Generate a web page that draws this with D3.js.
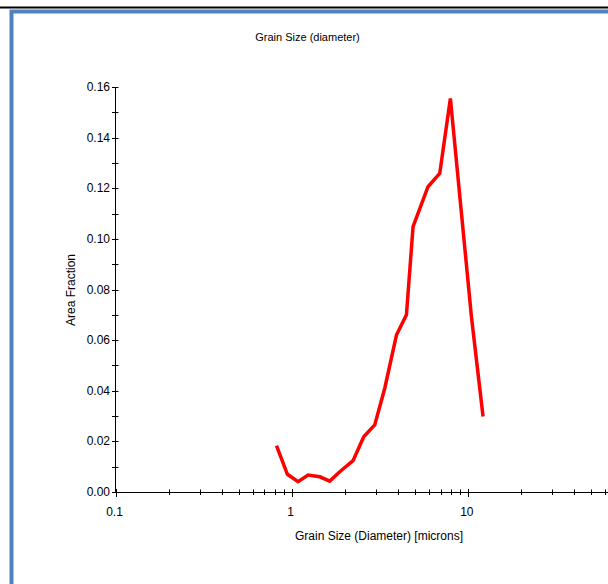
<!DOCTYPE html>
<html>
<head>
<meta charset="utf-8">
<script src="https://cdn.jsdelivr.net/npm/d3@7"></script>
<style>
  html, body { margin: 0; padding: 0; background: #fff; }
  svg { display: block; }
  text { font-family: "Liberation Sans", Arial, sans-serif; fill: #000; }
</style>
</head>
<body>
<svg id="chart" width="608" height="584"></svg>
<script>
// Grain size distribution (diameter, microns) vs. area fraction
const grainSize = [0.82, 0.946, 1.087, 1.239, 1.444, 1.645, 1.875, 2.231, 2.565, 2.962,
                   3.376, 3.934, 4.482, 4.887, 5.943, 6.93, 7.96, 10.48, 12.2];
const areaFraction = [0.0183, 0.0070, 0.0041, 0.0067, 0.0060, 0.0043, 0.0080, 0.0124, 0.0218, 0.0265,
                      0.0410, 0.0620, 0.0700, 0.1048, 0.1206, 0.1259, 0.1555, 0.0693, 0.0298];
const xTickLabels = ["0.1", "1", "10"];
const yTickValues = [0, 0.02, 0.04, 0.06, 0.08, 0.10, 0.12, 0.14, 0.16];

const svg = d3.select("#chart");

// Window frame
svg.append("line").attr("x1", 0).attr("x2", 608).attr("y1", 7.5).attr("y2", 7.5)
  .attr("stroke", "#000").attr("stroke-width", 2);
svg.append("path").attr("d", "M11.5,584 V11.5 H608")
  .attr("fill", "none").attr("stroke", "#4f81bd").attr("stroke-width", 4);

const x = d3.scaleLog().domain([0.1, 100]).range([115.5, 644]);
const y = d3.scaleLinear().domain([0, 0.16]).range([492, 87]);

// Axis lines
svg.append("line").attr("x1", 115.5).attr("x2", 608).attr("y1", 492.5).attr("y2", 492.5)
  .attr("stroke", "#000").attr("stroke-width", 1);
svg.append("line").attr("x1", 115.5).attr("x2", 115.5).attr("y1", 87).attr("y2", 492.5)
  .attr("stroke", "#000").attr("stroke-width", 1);

// Y ticks (major every 0.02, minor every 0.01)
const yMinor = d3.range(0, 0.1601, 0.01);
svg.selectAll(".ytick").data(yMinor).enter().append("line")
  .attr("x1", 112).attr("x2", 118.5)
  .attr("y1", d => Math.round(y(d)) + 0.5).attr("y2", d => Math.round(y(d)) + 0.5)
  .attr("stroke", "#000");
svg.selectAll(".ylab").data(yTickValues).enter().append("text")
  .attr("x", 110).attr("y", d => Math.round(y(d)) + 4)
  .attr("text-anchor", "end").attr("font-size", 12)
  .text(d => d.toFixed(2));

// X ticks (log: major at decades, minor at multiples)
const xMinor = [];
[0.1, 1, 10].forEach(dec => { for (let k = 1; k <= 9; k++) xMinor.push(dec * k); });
svg.selectAll(".xtick").data(xMinor).enter().append("line")
  .attr("x1", d => Math.round(x(d)) + 0.5).attr("x2", d => Math.round(x(d)) + 0.5)
  .attr("y1", (d, i) => i % 9 === 0 ? 489 : 489.5)
  .attr("y2", (d, i) => i % 9 === 0 ? 497 : 495)
  .attr("stroke", "#000");
svg.selectAll(".xlab").data(xTickLabels).enter().append("text")
  .attr("x", d => x(+d) - 1).attr("y", 516)
  .attr("text-anchor", "middle").attr("font-size", 12)
  .text(d => d);

// Titles
svg.append("text").attr("x", 307.5).attr("y", 41).attr("text-anchor", "middle")
  .attr("font-size", 11).text("Grain Size (diameter)");
svg.append("text").attr("x", 379).attr("y", 540).attr("text-anchor", "middle")
  .attr("font-size", 12).text("Grain Size (Diameter) [microns]");
svg.append("text").attr("transform", "translate(75,290) rotate(-90)")
  .attr("text-anchor", "middle").attr("font-size", 12).text("Area Fraction");

// Distribution curve
const pts = grainSize.map((g, i) => [g, areaFraction[i]]);
svg.append("path").datum(pts)
  .attr("fill", "none").attr("stroke", "#ff0000").attr("stroke-width", 3.5)
  .attr("stroke-linejoin", "miter")
  .attr("d", d3.line().x(d => x(d[0])).y(d => y(d[1])));
</script>
</body>
</html>
